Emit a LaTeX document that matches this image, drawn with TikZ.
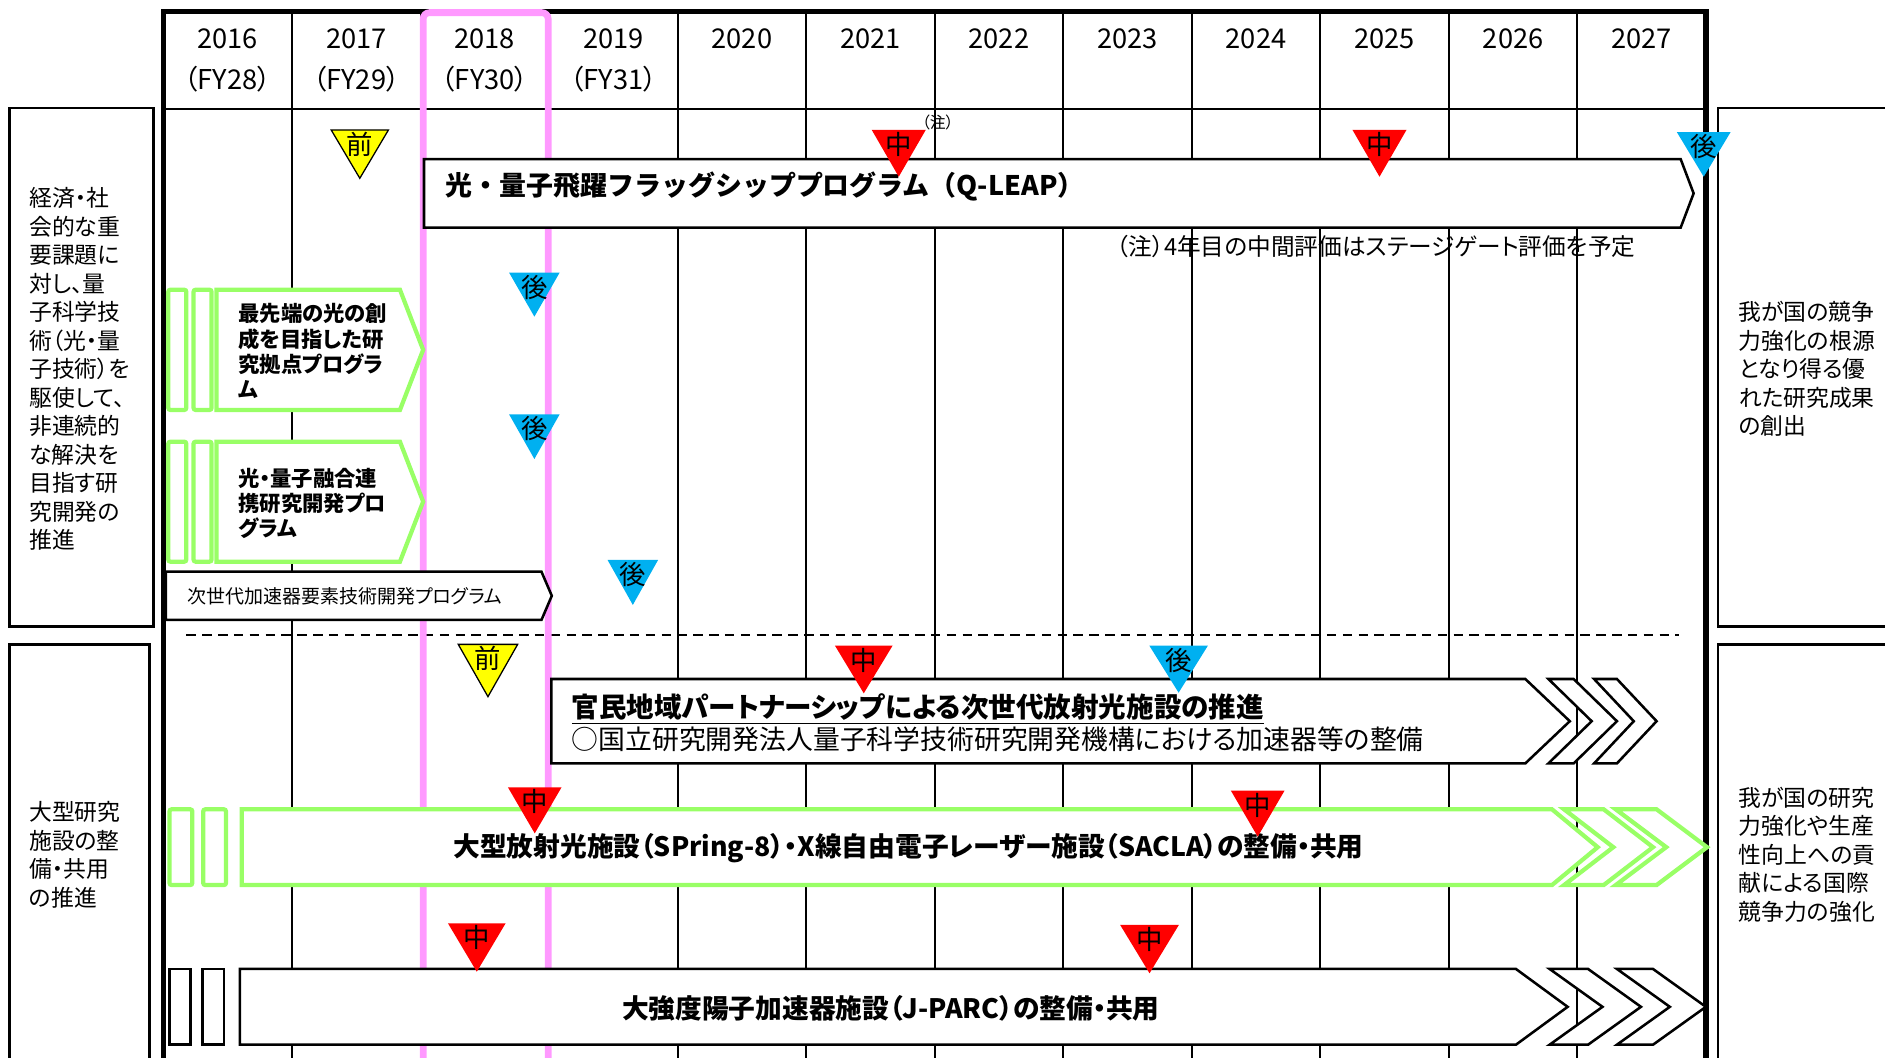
\documentclass[tikz,border=0pt]{standalone}
\usepackage{fontspec}
\setmainfont{Noto Sans CJK JP}[RawFeature=+palt]
\newfontfamily\jpfull{Noto Sans CJK JP}
\usetikzlibrary{positioning}
\definecolor{barGreen}{RGB}{153,255,102}
\definecolor{bandPink}{RGB}{255,153,255}
\definecolor{markRed}{RGB}{255,0,0}
\definecolor{markBlue}{RGB}{0,176,240}
\definecolor{markYellow}{RGB}{255,255,0}

% evaluation marker: name, x, top, tip, half width, style, label
\newcommand{\evmark}[7]{%
  \path[#6] ({#2-#5},#3) -- ({#2+#5},#3) -- (#2,#4) -- cycle;
  \node[marklbl] (#1) at (#2,{#3+12}) {#7};}
% arrow bar: style, left, top, corner, tip, bottom
\newcommand{\penta}[6]{%
  \path[#1] (#2,#3) -- (#4,#3) -- (#5,{(#3+#6)/2}) -- (#4,#6) -- (#2,#6) -- cycle;}
% chevron: style, left, top, width, depth, bottom
\newcommand{\chevr}[6]{%
  \path[#1] (#2,#3) -- ({#2+#4},#3) -- ({#2+#4+#5},{(#3+#6)/2}) -- ({#2+#4},#6) -- (#2,#6) -- ({#2+#5},{(#3+#6)/2}) -- cycle;}

\begin{document}
\begin{tikzpicture}[
  x=0.02cm, y=-0.02cm,
  gridline/.style={line width=1pt},
  frameline/.style={line width=2.5pt},
  sidebox/.style={draw, line width=1.2pt},
  whitebar/.style={draw=black, fill=white, line width=1.2pt},
  greenbar/.style={draw=barGreen, fill=white, line width=2pt},
  greentab/.style={draw=barGreen, fill=white, line width=2pt, rounded corners=1pt},
  redmark/.style={fill=markRed},
  bluemark/.style={fill=markBlue},
  prevmark/.style={fill=markYellow, draw=black, line width=0.6pt},
  marklbl/.style={inner sep=0pt, font=\fontsize{12.5}{13}\selectfont},
  yearlbl/.style={inner sep=0pt, font=\fontsize{12.9}{15}\selectfont},
  sidetext/.style={anchor=west, align=left, inner sep=0pt, font=\fontsize{10.8}{13.5}\selectfont},
  progtext/.style={anchor=west, align=left, inner sep=0pt, font=\bfseries\fontsize{10.1}{12}\selectfont},
  bartext/.style={inner sep=0pt, font=\bfseries\fontsize{12.65}{15}\selectfont}
]
\path[use as bounding box] (0,0) rectangle (1568,880);
\clip (0,0) rectangle (1568,880);

% side boxes
\draw[sidebox] (8,90) rectangle (127.5,521.3);
\draw[sidebox] (8,536) rectangle (124.5,895);
\draw[sidebox] (1429,90) rectangle (1600,521.3);
\draw[sidebox] (1429,536) rectangle (1600,895);
\node[sidetext] (goalL1) at (24,307) {経済・社\\会的な重\\要課題に\\対し、量\\子科学技\\術（光・量\\子技術）を\\駆使して、\\非連続的\\な解決を\\目指す研\\究開発の\\推進};
\node[sidetext] (goalL2) at (24,711) {大型研究\\施設の整\\備・共用\\の推進};
\node[sidetext] (goalR1) at (1446,307) {我が国の競争\\力強化の根源\\となり得る優\\れた研究成果\\の創出};
\node[sidetext] (goalR2) at (1446,711) {我が国の研究\\力強化や生産\\性向上への貢\\献による国際\\競争力の強化};

% year grid
\foreach \i in {1,...,11}
  \draw[gridline] ({136+106.92*\i},10) -- ({136+106.92*\i},890);
\draw[line width=1.2pt] (136,90.5) -- (1419,90.5);
\draw[frameline] (136,890) -- (136,9.5) -- (1419,9.5) -- (1419,890);
\foreach \yr [count=\i from 0] in {2016,...,2027}
  \node[yearlbl] (y\yr) at ({136+106.92*(\i+0.5)},32) {\yr};
\foreach \fy [count=\i from 0] in {28,...,31}
  \node[yearlbl] (fy\fy) at ({136+106.92*(\i+0.5)},65.5) {（FY\fy）};

% separator
\draw[line width=0.8pt, dash pattern=on 4.5pt off 3pt] (155,528.2) -- (1397,528.2);

% current year band
\draw[bandPink, line width=3.2pt, rounded corners=3pt] (352,890) -- (352,10.5) -- (456,10.5) -- (456,890);

% Q-LEAP
\penta{whitebar}{352.7}{132.3}{1398}{1408.8}{189.4}
\node[bartext, anchor=west, font=\jpfull\bfseries\fontsize{12.75}{15}\selectfont] (qleap) at (370.6,155.3) {光・量子飛躍フラッグシッププログラム（Q-LEAP）};
\node[inner sep=0pt, font=\fontsize{11.2}{13}\selectfont, anchor=west] (note) at (928.7,205.2) {（注）4年目の中間評価はステージゲート評価を予定};
\node[inner sep=0pt, font=\fontsize{7.5}{9}\selectfont] (chu) at (780,102) {（注）};

% research programs
\draw[greentab] (140,241) rectangle (155,341);
\draw[greentab] (161,241) rectangle (176,341);
\penta{greenbar}{180}{241}{332.7}{352}{341}
\node[progtext] (prog1) at (198,292.3) {最先端の光の創\\成を目指した研\\究拠点プログラ\\ム};
\draw[greentab] (140,367.4) rectangle (155,467.2);
\draw[greentab] (161,367.4) rectangle (176,467.2);
\penta{greenbar}{180}{367.4}{332.7}{352}{467.2}
\node[progtext] (prog2) at (198,418.7) {光・量子融合連\\携研究開発プロ\\グラム};
\penta{whitebar}{138}{475.5}{450.4}{459}{515.7}
\node[inner sep=0pt, anchor=west, font=\fontsize{9}{10}\selectfont] (accel) at (155.3,496) {次世代加速器要素技術開発プログラム};

% next-generation light source
\penta{whitebar}{458.6}{564.8}{1268.8}{1305.8}{635}
\chevr{whitebar}{1288}{564.8}{21}{36}{635}
\chevr{whitebar}{1326}{564.8}{19}{33}{635}
\node[anchor=west, align=left, inner sep=0pt, font=\fontsize{12.7}{15}\selectfont] (nextgen) at (475.3,601) {\fontsize{13.05}{15}\selectfont\textbf{\underline{官民地域パートナーシップによる次世代放射光施設の推進}}\\○国立研究開発法人量子科学技術研究開発機構における加速器等の整備};

% SPring-8 / SACLA
\draw[greentab] (141,673.2) rectangle (160,736.2);
\draw[greentab] (169,673.2) rectangle (188,736.2);
\penta{greenbar}{201}{673.2}{1291}{1329}{736.2}
\chevr{greenbar}{1301}{673.2}{33}{41}{736.2}
\chevr{greenbar}{1344}{673.2}{34}{42}{736.2}
\node[bartext] (spring) at (755.8,705.6) {大型放射光施設（SPring-8）・X線自由電子レーザー施設（SACLA）の整備・共用};

% J-PARC
\draw[whitebar] (141,806) rectangle (158.6,869);
\draw[whitebar] (168.6,806) rectangle (186.3,869);
\penta{whitebar}{199.6}{806}{1261}{1304}{869}
\chevr{whitebar}{1289}{806}{32}{44}{869}
\chevr{whitebar}{1345}{806}{30}{44}{869}
\node[bartext] (jparc) at (741,838.8) {大強度陽子加速器施設（J-PARC）の整備・共用};

% evaluation markers
\evmark{mQa}{299.3}{108.1}{148.3}{23.8}{prevmark}{前}
\evmark{mQb}{747.6}{108}{147}{22.5}{redmark}{中}
\evmark{mQc}{1147.5}{108}{147}{22.5}{redmark}{中}
\evmark{mQd}{1417.2}{110}{147}{22.3}{bluemark}{後}
\evmark{mPa}{444.5}{226.8}{263.4}{21}{bluemark}{後}
\evmark{mPb}{444.5}{344.7}{381.8}{21}{bluemark}{後}
\evmark{mPc}{526.4}{465.8}{503.2}{21}{bluemark}{後}
\evmark{mKa}{405.9}{536}{579.5}{24.7}{prevmark}{前}
\evmark{mKb}{718.5}{537}{576.7}{24}{redmark}{中}
\evmark{mKc}{980.4}{537}{576.2}{24.4}{bluemark}{後}
\evmark{mSa}{444.8}{654.9}{693.2}{22.3}{redmark}{中}
\evmark{mSb}{1046.2}{657.7}{696}{22.3}{redmark}{中}
\evmark{mJa}{396.6}{768}{808.3}{24}{redmark}{中}
\evmark{mJb}{956.2}{769.4}{809.6}{24.4}{redmark}{中}
\end{tikzpicture}
\end{document}
